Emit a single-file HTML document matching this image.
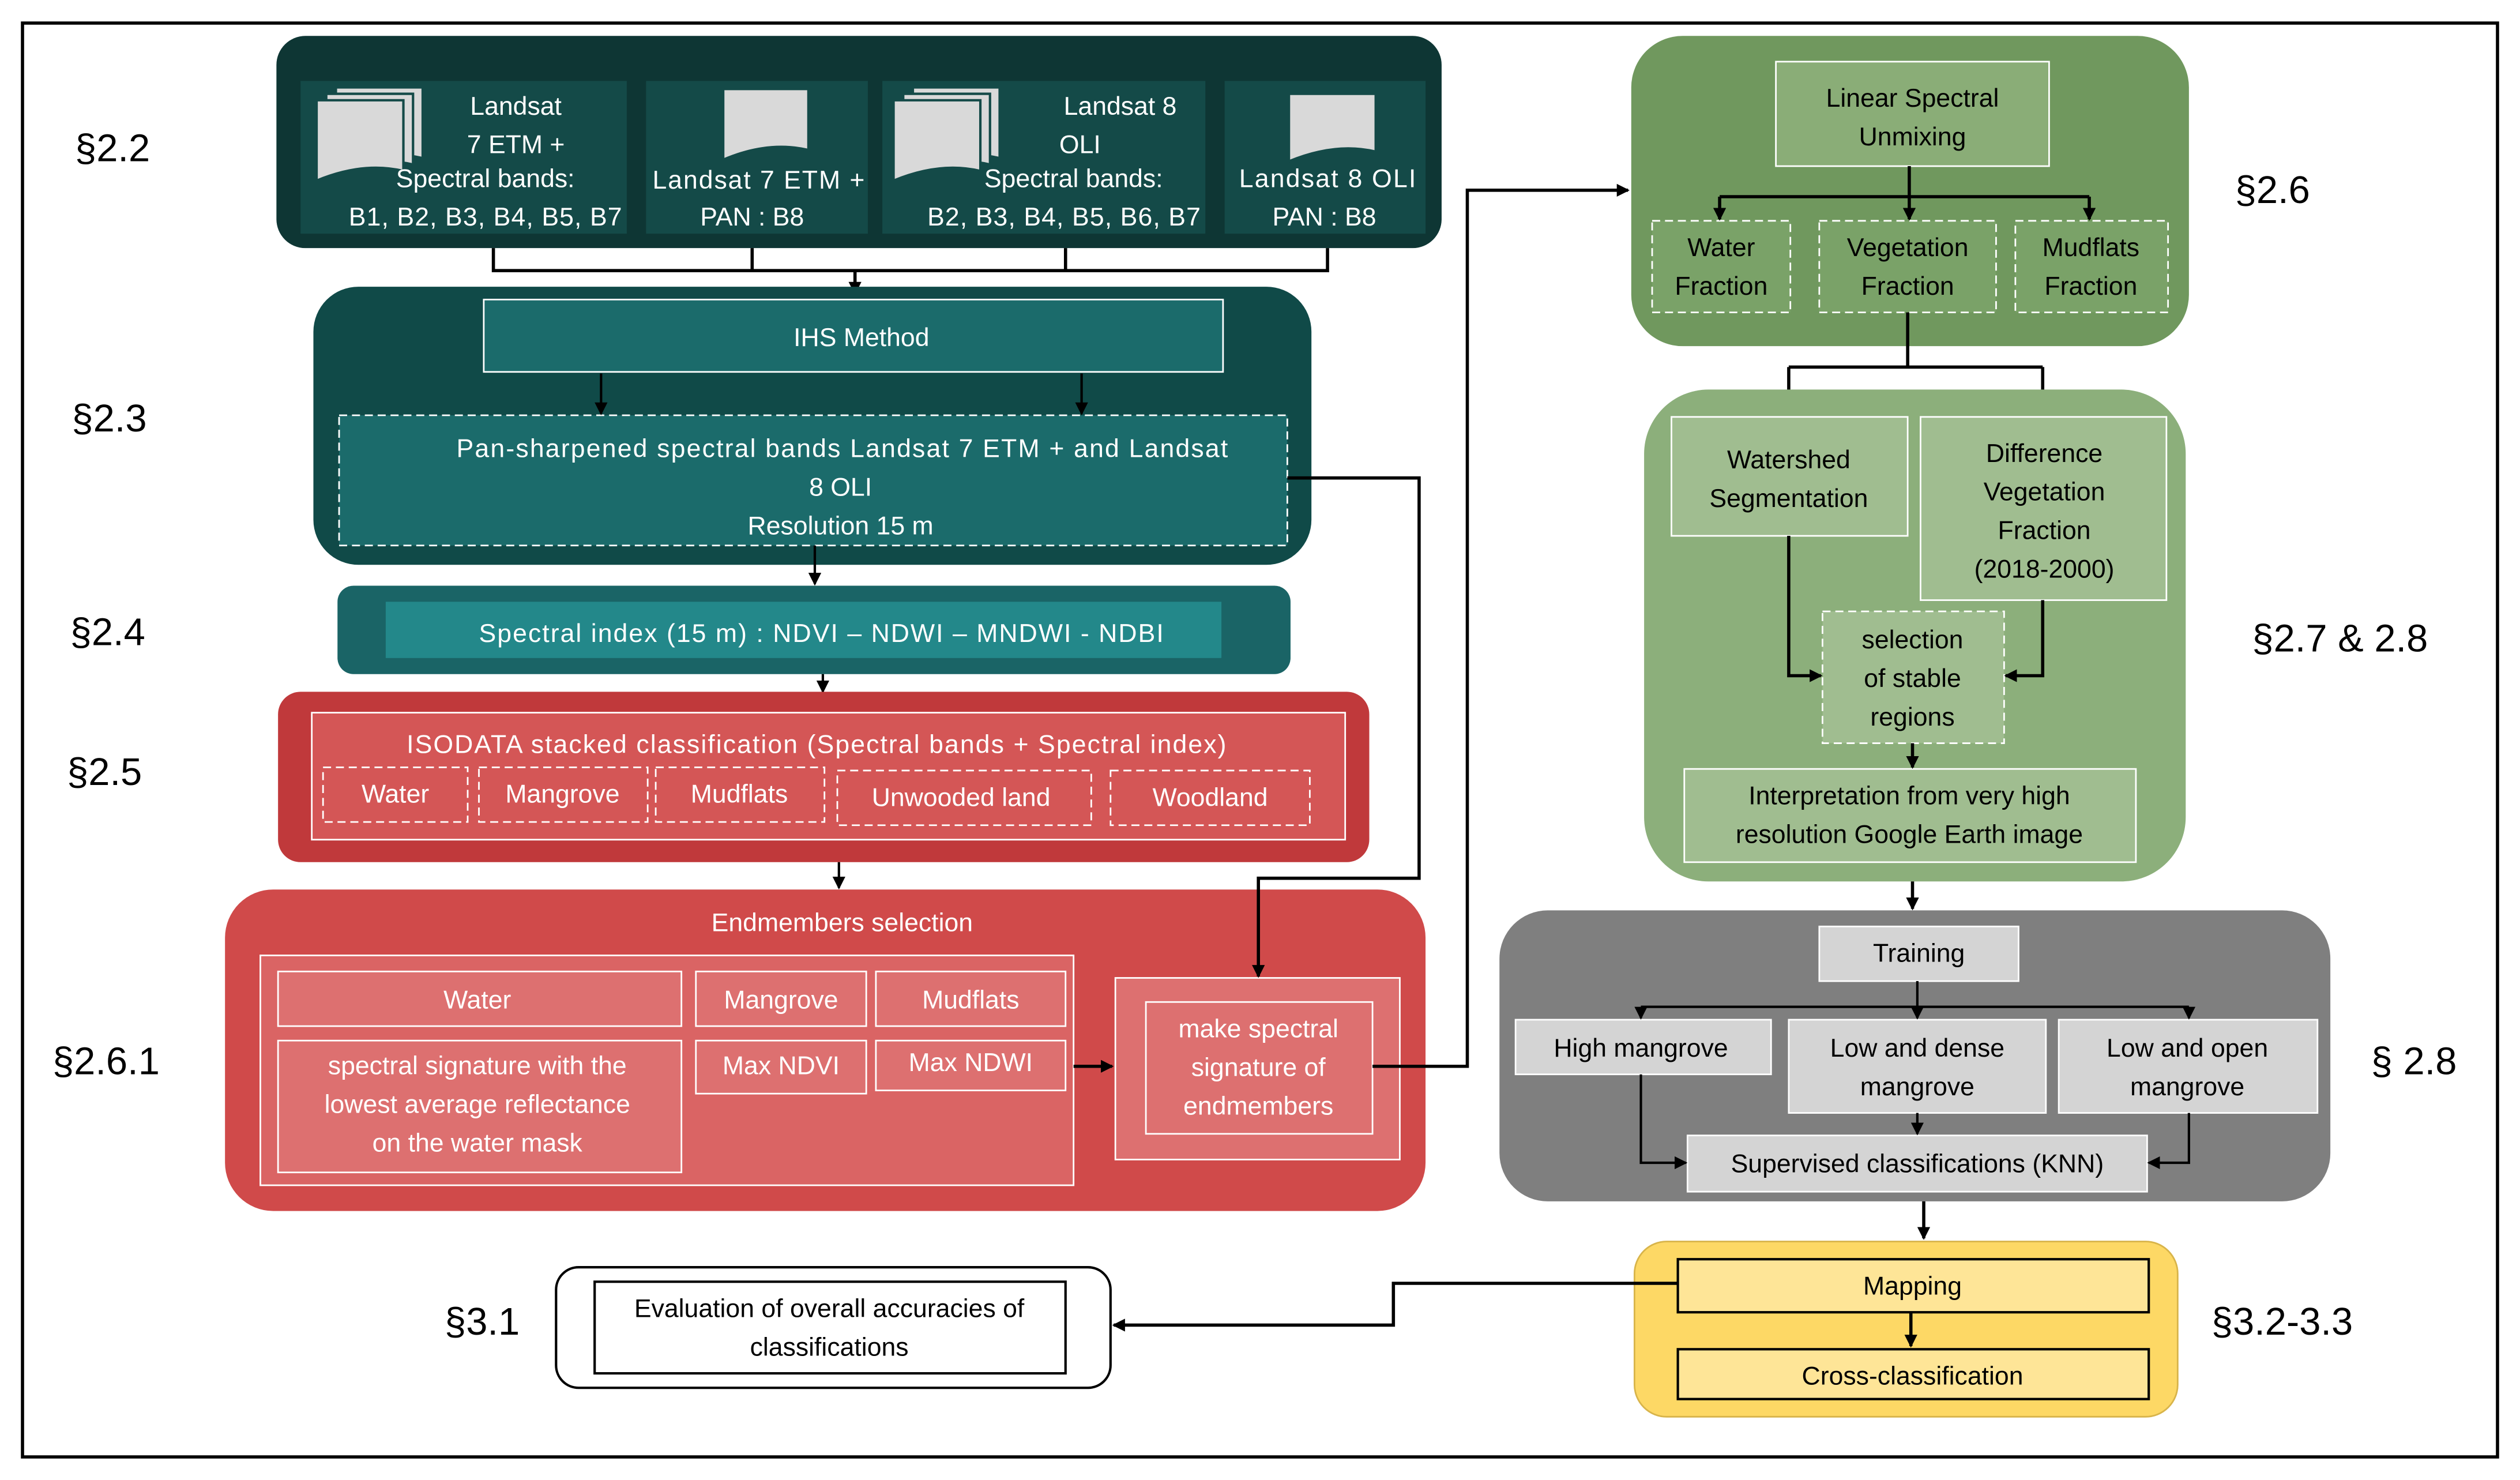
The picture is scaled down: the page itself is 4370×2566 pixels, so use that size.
<!DOCTYPE html>
<html><head><meta charset="utf-8"><style>html,body{margin:0;padding:0;background:#fff}svg{display:block}</style></head><body>
<svg xmlns="http://www.w3.org/2000/svg" width="4370" height="2566" viewBox="0 0 1568 920" font-family="Liberation Sans, sans-serif">
<defs><marker id="a" markerWidth="8" markerHeight="8" refX="7" refY="4" orient="auto" markerUnits="userSpaceOnUse"><path d="M0,0 L8,4 L0,8 z" fill="#000"/></marker></defs>
<rect x="14" y="14" width="1540" height="892" fill="#fff" stroke="#000" stroke-width="2"/>
<g font-size="24" fill="#000" text-anchor="middle">
<text x="70" y="100">§2.2</text><text x="68" y="268">§2.3</text><text x="67" y="401">§2.4</text><text x="65" y="488">§2.5</text><text x="66" y="668">§2.6.1</text><text x="300" y="830">§3.1</text><text x="1414" y="126">§2.6</text><text x="1456" y="405">§2.7 &amp; 2.8</text><text x="1502" y="668">§ 2.8</text><text x="1420" y="830">§3.2-3.3</text>
</g>
<!-- top -->
<rect x="172" y="22" width="725" height="132" rx="18" fill="#0e3634"/>
<g fill="#144a48"><rect x="187" y="50" width="203" height="95"/><rect x="402" y="50" width="138" height="95"/><rect x="549" y="50" width="201" height="95"/><rect x="762" y="50" width="125" height="95"/></g>
<g fill="#d9d9d9" stroke="#144a48" stroke-width="1.5">
<path d="M209,54 h54 v44 q-25,-6 -54,6z"/><path d="M203,58 h54 v44 q-25,-6 -54,6z"/><path d="M197,62 h54 v44 q-25,-6 -54,6z"/>
<path d="M450,55 h53 v38 q-25,-6 -53,6z"/><path d="M568,54 h54 v44 q-25,-6 -54,6z"/><path d="M562,58 h54 v44 q-25,-6 -54,6z"/><path d="M556,62 h54 v44 q-25,-6 -54,6z"/><path d="M802,58 h54 v36 q-25,-6 -54,6z"/></g>
<g fill="#fff" font-size="16" text-anchor="middle">
<text x="321" y="71">Landsat</text><text x="321" y="95">7 ETM +</text><text x="302" y="116">Spectral bands:</text><text x="302" y="140" textLength="170">B1, B2, B3, B4, B5, B7</text>
<text x="472" y="117" textLength="132">Landsat 7 ETM +</text><text x="468" y="140">PAN : B8</text>
<text x="697" y="71">Landsat 8</text><text x="672" y="95">OLI</text><text x="668" y="116">Spectral bands:</text><text x="662" y="140" textLength="170">B2, B3, B4, B5, B6, B7</text>
<text x="826" y="116" textLength="110">Landsat 8 OLI</text><text x="824" y="140">PAN : B8</text></g>
<g stroke="#000" stroke-width="2" fill="none"><path d="M307,154V168H826V154M468,154V168M663,154V168"/><path d="M532,168V182" marker-end="url(#a)"/></g>
<!-- IHS -->
<rect x="195" y="178" width="621" height="173" rx="28" fill="#104a48"/>
<rect x="301" y="186" width="460" height="45" fill="#1b6b6b" stroke="#fff"/>
<rect x="211" y="258" width="590" height="81" fill="#1b6b6b" stroke="#fff" stroke-dasharray="5,3"/>
<g fill="#fff" font-size="16" text-anchor="middle"><text x="536" y="215">IHS Method</text>
<text x="524" y="284" textLength="480">Pan-sharpened spectral bands Landsat 7 ETM + and Landsat</text><text x="523" y="308">8 OLI</text><text x="523" y="332">Resolution 15 m</text></g>
<g stroke="#000" stroke-width="1.5" fill="none"><path d="M374,232V257" marker-end="url(#a)"/><path d="M673,232V257" marker-end="url(#a)"/><path d="M507,339V363" marker-end="url(#a)"/></g>
<!-- spectral index -->
<rect x="210" y="364" width="593" height="55" rx="10" fill="#1a6466"/>
<rect x="240" y="374" width="520" height="35" fill="#23888a"/>
<text x="511" y="399" fill="#fff" font-size="16" text-anchor="middle" textLength="426">Spectral index (15 m) : NDVI – NDWI – MNDWI - NDBI</text>
<path d="M512,419V430" stroke="#000" stroke-width="1.5" marker-end="url(#a)"/>
<!-- ISODATA -->
<rect x="173" y="430" width="679" height="106" rx="14" fill="#c0393b"/>
<rect x="194" y="443" width="643" height="79" fill="#d45656" stroke="#fff"/>
<g fill="#d45656" stroke="#fff" stroke-dasharray="5,3"><rect x="201" y="477" width="90" height="34"/><rect x="298" y="477" width="105" height="34"/><rect x="408" y="477" width="105" height="34"/><rect x="521" y="479" width="158" height="34"/><rect x="691" y="479" width="124" height="34"/></g>
<g fill="#fff" font-size="16" text-anchor="middle"><text x="508" y="468" textLength="510">ISODATA  stacked classification (Spectral bands + Spectral index)</text>
<text x="246" y="499">Water</text><text x="350" y="499">Mangrove</text><text x="460" y="499">Mudflats</text><text x="598" y="501">Unwooded land</text><text x="753" y="501">Woodland</text></g>
<path d="M522,536V552" stroke="#000" stroke-width="1.5" marker-end="url(#a)"/>
<!-- Endmembers -->
<rect x="140" y="553" width="747" height="200" rx="30" fill="#d04a4a"/>
<rect x="162" y="594" width="506" height="143" fill="#da6464" stroke="#fff"/>
<g fill="#dd7070" stroke="#fff"><rect x="173" y="604" width="251" height="34"/><rect x="173" y="647" width="251" height="82"/><rect x="433" y="604" width="106" height="34"/><rect x="545" y="604" width="118" height="34"/><rect x="433" y="647" width="106" height="33"/><rect x="545" y="647" width="118" height="31"/>
<rect x="694" y="608" width="177" height="113"/><rect x="713" y="623" width="141" height="82"/></g>
<g fill="#fff" font-size="16" text-anchor="middle"><text x="524" y="579">Endmembers selection</text>
<text x="297" y="627">Water</text><text x="297" y="668">spectral signature with the</text><text x="297" y="692">lowest average reflectance</text><text x="297" y="716">on the water mask</text>
<text x="486" y="627">Mangrove</text><text x="604" y="627">Mudflats</text><text x="486" y="668">Max NDVI</text><text x="604" y="666">Max NDWI</text>
<text x="783" y="645">make spectral</text><text x="783" y="669">signature of</text><text x="783" y="693">endmembers</text></g>
<g stroke="#000" stroke-width="2" fill="none"><path d="M668,663H692" marker-end="url(#a)"/>
<path d="M801,297H883V546H783V607" marker-end="url(#a)"/>
<path d="M854,663H913V118H1013" marker-end="url(#a)"/></g>
<!-- green top -->
<rect x="1015" y="22" width="347" height="193" rx="32" fill="#70985e"/>
<rect x="1105" y="38" width="170" height="65" fill="#8aad77" stroke="#fff"/>
<g fill="#7aa268" stroke="#fff" stroke-dasharray="5,3"><rect x="1028" y="137" width="86" height="57"/><rect x="1132" y="137" width="110" height="57"/><rect x="1254" y="137" width="95" height="57"/></g>
<g fill="#000" font-size="16" text-anchor="middle"><text x="1190" y="66">Linear Spectral</text><text x="1190" y="90">Unmixing</text>
<text x="1071" y="159">Water</text><text x="1071" y="183">Fraction</text><text x="1187" y="159">Vegetation</text><text x="1187" y="183">Fraction</text><text x="1301" y="159">Mudflats</text><text x="1301" y="183">Fraction</text></g>
<g stroke="#000" stroke-width="2" fill="none"><path d="M1188,103V122M1070,122H1300"/><path d="M1070,122V136" marker-end="url(#a)"/><path d="M1188,122V136" marker-end="url(#a)"/><path d="M1300,122V136" marker-end="url(#a)"/>
<path d="M1187,194V228M1113,228H1271"/><path d="M1113,228V257" marker-end="url(#a)"/><path d="M1271,228V257" marker-end="url(#a)"/></g>
<!-- green 2 -->
<rect x="1023" y="242" width="337" height="306" rx="40" fill="#8caf7b"/>
<g fill="#a0bd90" stroke="#fff"><rect x="1040" y="259" width="147" height="74"/><rect x="1195" y="259" width="153" height="114"/><rect x="1048" y="478" width="281" height="58"/></g>
<rect x="1134" y="380" width="113" height="82" fill="#a0bd90" stroke="#fff" stroke-dasharray="5,3"/>
<g fill="#000" font-size="16" text-anchor="middle"><text x="1113" y="291">Watershed</text><text x="1113" y="315">Segmentation</text>
<text x="1272" y="287">Difference</text><text x="1272" y="311">Vegetation</text><text x="1272" y="335">Fraction</text><text x="1272" y="359">(2018-2000)</text>
<text x="1190" y="403">selection</text><text x="1190" y="427">of stable</text><text x="1190" y="451">regions</text>
<text x="1188" y="500">Interpretation from very high</text><text x="1188" y="524">resolution Google Earth image</text></g>
<g stroke="#000" stroke-width="2" fill="none"><path d="M1113,333V420H1133" marker-end="url(#a)"/><path d="M1271,373V420H1248" marker-end="url(#a)"/><path d="M1190,462V477" marker-end="url(#a)"/><path d="M1190,548V565" marker-end="url(#a)"/></g>
<!-- gray -->
<rect x="933" y="566" width="517" height="181" rx="30" fill="#7f7f7f"/>
<g fill="#d4d4d4" stroke="#fff"><rect x="1132" y="576" width="124" height="34"/><rect x="943" y="634" width="159" height="34"/><rect x="1113" y="634" width="160" height="58"/><rect x="1281" y="634" width="161" height="58"/><rect x="1050" y="706" width="286" height="35"/></g>
<g fill="#000" font-size="16" text-anchor="middle"><text x="1194" y="598">Training</text><text x="1021" y="657">High mangrove</text>
<text x="1193" y="657">Low and dense</text><text x="1193" y="681">mangrove</text><text x="1361" y="657">Low and open</text><text x="1361" y="681">mangrove</text>
<text x="1193" y="729">Supervised classifications (KNN)</text></g>
<g stroke="#000" stroke-width="1.5" fill="none"><path d="M1193,610V626M1021,626H1362"/><path d="M1021,626V633" marker-end="url(#a)"/><path d="M1193,626V633" marker-end="url(#a)"/><path d="M1362,626V633" marker-end="url(#a)"/>
<path d="M1021,668V723H1049" marker-end="url(#a)"/><path d="M1362,692V723H1337" marker-end="url(#a)"/><path d="M1193,692V705" marker-end="url(#a)"/></g>
<path d="M1197,747V770" stroke="#000" stroke-width="2" marker-end="url(#a)"/>
<!-- yellow -->
<rect x="1017" y="772" width="338" height="109" rx="20" fill="#fdd865" stroke="#d8b44a"/>
<g fill="#fee597" stroke="#000" stroke-width="1.5"><rect x="1044" y="783" width="293" height="33"/><rect x="1044" y="839" width="293" height="31"/></g>
<g fill="#000" font-size="16" text-anchor="middle"><text x="1190" y="805">Mapping</text><text x="1190" y="861">Cross-classification</text></g>
<path d="M1189,816V837" stroke="#000" stroke-width="2" marker-end="url(#a)"/>
<path d="M1044,798H867V824H693" stroke="#000" stroke-width="2" fill="none" marker-end="url(#a)"/>
<!-- evaluation -->
<rect x="346" y="788" width="345" height="75" rx="14" fill="#fff" stroke="#000" stroke-width="1.5"/>
<rect x="370" y="797" width="293" height="57" fill="#fff" stroke="#000" stroke-width="1.5"/>
<g fill="#000" font-size="16" text-anchor="middle"><text x="516" y="819">Evaluation of overall accuracies of</text><text x="516" y="843">classifications</text></g>
</svg>
</body></html>
